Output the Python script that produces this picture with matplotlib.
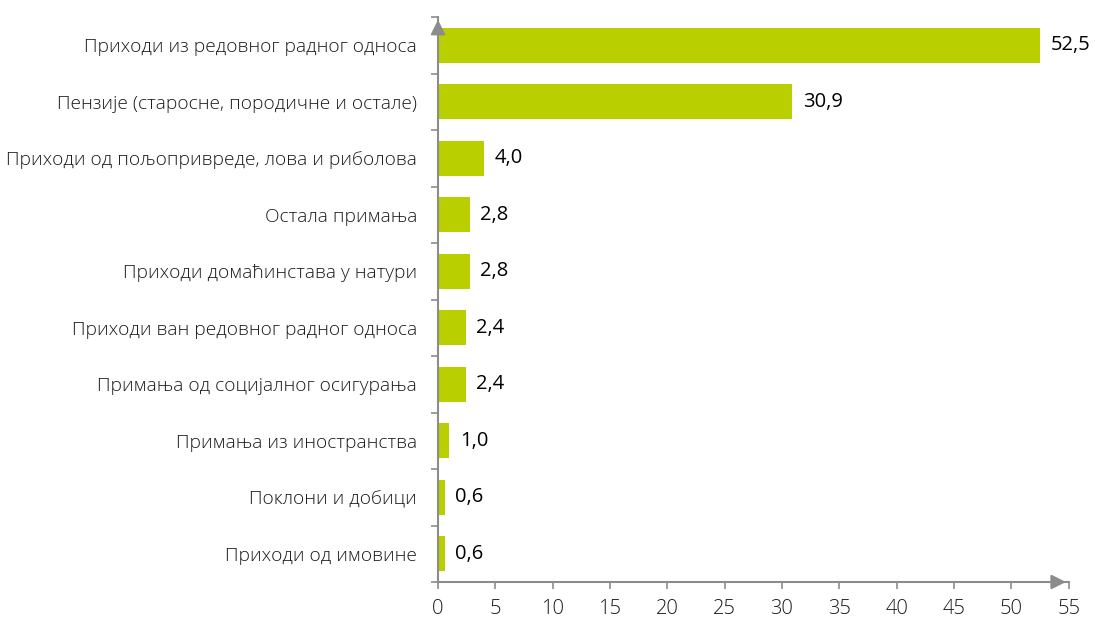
import matplotlib
matplotlib.use('Agg')
import matplotlib.pyplot as plt

# Структура прихода (%)
categories = ['Приходи из редовног радног односа',
              'Пензије (старосне, породичне и остале)',
              'Приходи од пољопривреде, лова и риболова',
              'Остала примања',
              'Приходи домаћинстава у натури',
              'Приходи ван редовног радног односа',
              'Примања од социјалног осигурања',
              'Примања из иностранства',
              'Поклони и добици',
              'Приходи од имовине']
values = [52.5, 30.9, 4.0, 2.8, 2.8, 2.4, 2.4, 1.0, 0.6, 0.6]
xticks = list(range(0, 60, 5))

plt.rcParams['font.family'] = ['Open Sans', 'DejaVu Sans']
axis_col = '#8c8c8c'

fig = plt.figure(figsize=(10.95, 6.21), dpi=100)
ax = fig.add_axes([0.4, 0.0628, 0.576, 0.9098])

n = len(categories)
ypos = list(range(n))[::-1]
ax.barh(ypos, values, height=0.62, color='#b9cf00')
for y, v in zip(ypos, values):
    ax.text(v + 0.9, y, f'{v:.1f}'.replace('.', ','), va='center', ha='left', fontsize=14.5, color='#000000')

ax.set_xlim(0, 55)
ax.set_ylim(-0.5, n - 0.5)
ax.set_xticks(xticks)
ax.set_xticklabels([str(t) for t in xticks], fontsize=14.5, fontweight='light', color='#1a1a1a')
ax.set_yticks(ypos)
ax.set_yticklabels(categories, fontsize=13.8, fontweight='light', color='#1a1a1a')
ax.tick_params(axis='y', length=0, pad=15)
ax.set_yticks([i - 0.5 for i in range(n + 1)], minor=True)
ax.tick_params(axis='y', which='minor', length=5, color=axis_col, width=1.2)
ax.tick_params(axis='x', length=5, color=axis_col, width=1.2, pad=7)

for s in ['top', 'right']:
    ax.spines[s].set_visible(False)
for s in ['left', 'bottom']:
    ax.spines[s].set_color(axis_col)
    ax.spines[s].set_linewidth(1.5)

# стрелице на осама
ax.annotate('', xy=(0, 1.0), xytext=(0, 0.97), xycoords='axes fraction',
            arrowprops=dict(arrowstyle='-|>', color=axis_col, lw=1.5, mutation_scale=22))
ax.annotate('', xy=(1.0, 0), xytext=(0.97, 0), xycoords='axes fraction',
            arrowprops=dict(arrowstyle='-|>', color=axis_col, lw=1.5, mutation_scale=22))

plt.savefig('out.png', dpi=100)
